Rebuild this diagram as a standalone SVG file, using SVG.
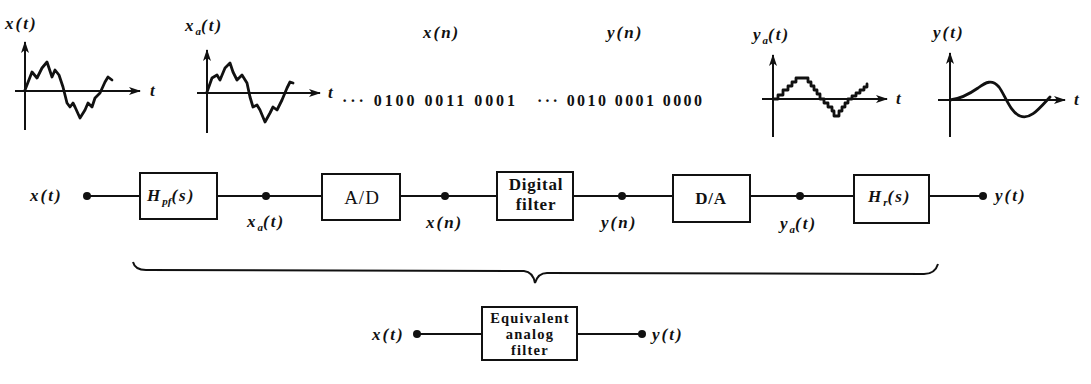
<svg xmlns="http://www.w3.org/2000/svg" width="1091" height="384" viewBox="0 0 1091 384">
<defs>
<marker id="ah" viewBox="0 0 12 8" refX="11" refY="4" markerWidth="12" markerHeight="8" markerUnits="userSpaceOnUse" orient="auto">
<path d="M0,0 L12,4 L0,8 L3,4 Z" fill="#111"/>
</marker>
<style>
.lbl{font-family:"Liberation Serif",serif;font-style:italic;font-weight:bold;font-size:17px;letter-spacing:2px;fill:#111}
.sub{font-size:11px;letter-spacing:0}
.txt{font-family:"Liberation Serif",serif;font-size:19px;letter-spacing:1px;fill:#111}
.btxt{font-family:"Liberation Serif",serif;font-size:17px;font-weight:bold;letter-spacing:0.8px;fill:#111}
.eq{font-family:"Liberation Serif",serif;font-size:14.5px;font-weight:bold;letter-spacing:1.2px;fill:#111}
.bin{font-family:"Liberation Serif",serif;font-size:16px;font-weight:bold;fill:#111}
.box{fill:#fff;stroke:#111;stroke-width:2}
.wire{stroke:#111;stroke-width:2;fill:none}
.axis{stroke:#111;stroke-width:2;fill:none}
.wave{stroke:#111;stroke-width:2.8;fill:none;stroke-linejoin:round;stroke-linecap:round}
.dot{fill:#111}
</style>
</defs>
<rect width="1091" height="384" fill="#fff"/>

<g id="plot-x">
<text class="lbl" x="5" y="29">x(t)</text>
<line class="axis" x1="25" y1="130" x2="25" y2="42" marker-end="url(#ah)"/>
<line class="axis" x1="15" y1="91" x2="140" y2="91" marker-end="url(#ah)"/>
<text class="lbl" x="150" y="96">t</text>
<polyline class="wave" points="25,90 32,72 37,78 42,68 47,62 52,77 55,70 59,75 63,87 67,103 70,107 73,103 75,107 80,118 85,110 88,103 92,107 95,98 100,93 105,82 108,77 112,80"/>
</g>

<g id="plot-xa">
<text class="lbl" x="185" y="31">x<tspan class="sub" dy="4">a</tspan><tspan dy="-4">(t)</tspan></text>
<line class="axis" x1="207" y1="133" x2="207" y2="50" marker-end="url(#ah)"/>
<line class="axis" x1="197" y1="93" x2="320" y2="93" marker-end="url(#ah)"/>
<text class="lbl" x="328" y="98">t</text>
<polyline class="wave" points="207,92 212,78 217,75 220,80 225,68 230,63 233,72 237,80 242,75 247,83 250,97 253,107 257,105 260,110 265,122 270,113 273,107 277,110 282,100 287,88 290,82 293,83"/>
</g>

<g id="digital-x">
<text class="lbl" x="423" y="38">x(n)</text>
<text class="bin" x="342" y="106" textLength="173" lengthAdjust="spacing">··· 0100 0011 0001</text>
</g>

<g id="digital-y">
<text class="lbl" x="607" y="38">y(n)</text>
<text class="bin" x="537" y="106" textLength="165" lengthAdjust="spacing">··· 0010 0001 0000</text>
</g>

<g id="plot-ya">
<text class="lbl" x="753" y="40">y<tspan class="sub" dy="4">a</tspan><tspan dy="-4">(t)</tspan></text>
<line class="axis" x1="773" y1="137" x2="773" y2="55" marker-end="url(#ah)"/>
<line class="axis" x1="762" y1="99" x2="887" y2="99" marker-end="url(#ah)"/>
<text class="lbl" x="896" y="104">t</text>
<path class="wave" stroke-width="2.2" d="M773,99 H778 V95 H783 V90 H788 V86 H792 V82 H796 V78 H808 V82 H811 V86 H814 V90 H817 V94 H820 V99 H824 V103 H828 V107 H832 V111 H834 V116 H839 V111 H842 V107 H845 V103 H848 V99 H852 V96 H856 V93 H860 V90 H864 V87 H867 V84"/>
</g>

<g id="plot-y">
<text class="lbl" x="933" y="38">y(t)</text>
<line class="axis" x1="950" y1="137" x2="950" y2="53" marker-end="url(#ah)"/>
<line class="axis" x1="938" y1="100" x2="1065" y2="100" marker-end="url(#ah)"/>
<text class="lbl" x="1074" y="105">t</text>
<path class="wave" d="M950,100 C960,99 968,95 978,88 C986,82 992,79 999,87 C1005,95 1010,112 1020,116 C1030,120 1038,110 1050,97"/>
</g>

<g id="connectors">
<line class="wire" x1="87" y1="196" x2="140" y2="196"/>
<line class="wire" x1="217" y1="196" x2="322" y2="196"/>
<line class="wire" x1="400" y1="196" x2="497" y2="196"/>
<line class="wire" x1="573" y1="196" x2="673" y2="196"/>
<line class="wire" x1="750" y1="196" x2="854" y2="196"/>
<line class="wire" x1="929" y1="196" x2="983" y2="196"/>
<line class="wire" x1="417" y1="334" x2="482" y2="334"/>
<line class="wire" x1="577" y1="334" x2="642" y2="334"/>
<path class="wire" d="M133,262 Q135,270 146,270 L524,271 Q533,272 535,283 Q538,273 547,273 L924,274 Q935,274 938,264"/>
<circle class="dot" cx="87" cy="196" r="4"/>
<circle class="dot" cx="266" cy="196" r="4"/>
<circle class="dot" cx="445" cy="196" r="4"/>
<circle class="dot" cx="622" cy="196" r="4"/>
<circle class="dot" cx="800" cy="196" r="4"/>
<circle class="dot" cx="983" cy="196" r="4"/>
<circle class="dot" cx="417" cy="334" r="4"/>
<circle class="dot" cx="642" cy="334" r="4"/>
</g>

<g id="in-x">
<text class="lbl" x="30" y="201">x(t)</text>
</g>

<g id="node-hpf">
<rect class="box" x="140" y="173" width="77" height="46"/>
<text class="lbl" x="147" y="201" letter-spacing="1">H<tspan class="sub" dy="4">pf</tspan><tspan dy="-4">(s)</tspan></text>
</g>
<text class="lbl" x="247" y="227">x<tspan class="sub" dy="4">a</tspan><tspan dy="-4">(t)</tspan></text>

<g id="node-ad">
<rect class="box" x="322" y="174" width="78" height="46"/>
<text class="txt" x="362" y="204" text-anchor="middle">A/D</text>
</g>
<text class="lbl" x="426" y="228">x(n)</text>

<g id="node-digital">
<rect class="box" x="497" y="172" width="76" height="48"/>
<text class="btxt" x="536" y="190" text-anchor="middle">Digital</text>
<text class="btxt" x="536" y="210" text-anchor="middle">filter</text>
</g>
<text class="lbl" x="601" y="228">y(n)</text>

<g id="node-da">
<rect class="box" x="673" y="175" width="77" height="47"/>
<text class="btxt" x="711" y="204" text-anchor="middle" font-size="18">D/A</text>
</g>
<text class="lbl" x="780" y="229">y<tspan class="sub" dy="4">a</tspan><tspan dy="-4">(t)</tspan></text>

<g id="node-hr">
<rect class="box" x="854" y="175" width="75" height="48"/>
<text class="lbl" x="868" y="202" letter-spacing="1">H<tspan class="sub" dy="4">r</tspan><tspan dy="-4">(s)</tspan></text>
</g>

<g id="out-y">
<text class="lbl" x="995" y="201">y(t)</text>
</g>

<g id="node-equivalent">
<rect class="box" x="482" y="307" width="95" height="53"/>
<text class="eq" x="530" y="323" text-anchor="middle">Equivalent</text>
<text class="eq" x="530" y="339" text-anchor="middle">analog</text>
<text class="eq" x="530" y="355" text-anchor="middle">filter</text>
</g>
<g id="eq-in"><text class="lbl" x="372" y="340">x(t)</text></g>
<g id="eq-out"><text class="lbl" x="652" y="340">y(t)</text></g>
</svg>
